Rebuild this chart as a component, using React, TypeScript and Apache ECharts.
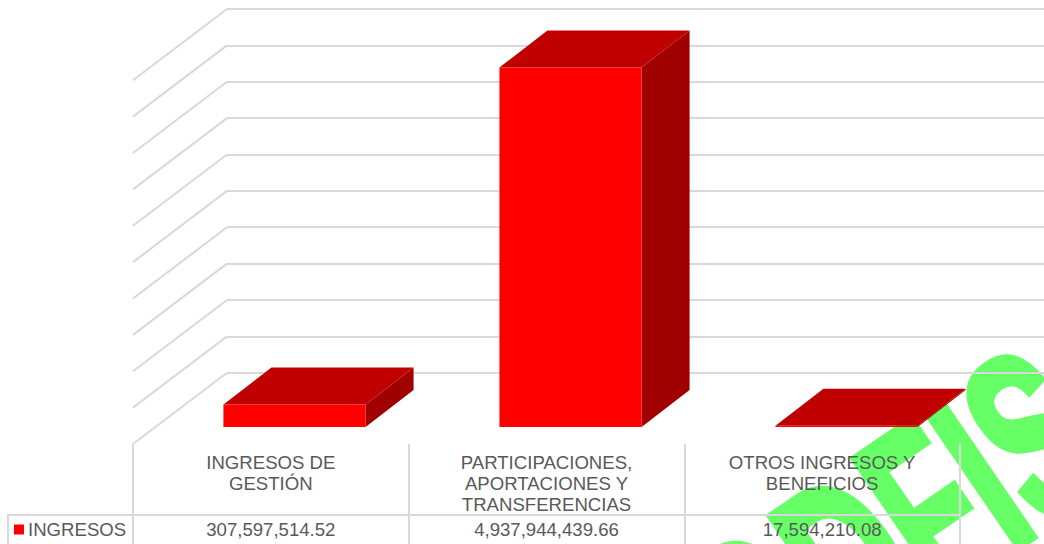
import React, { useEffect, useRef } from "react";
import * as echarts from "echarts";

const categories = ["INGRESOS DE\nGESTIÓN", "PARTICIPACIONES,\nAPORTACIONES Y\nTRANSFERENCIAS", "OTROS INGRESOS Y\nBENEFICIOS"];
const seriesName = "INGRESOS";
const values = [307597514.52, 4937944439.66, 17594210.08];
const gridTicks = [0, 500000000, 1000000000, 1500000000, 2000000000, 2500000000, 3000000000, 3500000000, 4000000000, 4500000000, 5000000000];
const watermark = "ODFIS";

const fmt = (v: number) => v.toLocaleString("en-US", { minimumFractionDigits: 2, maximumFractionDigits: 2 });
const FONT = '"Liberation Sans", Arial, sans-serif';
const GRID = "#D9D9D9";
const TEXT = "#595959";

export default function App() {
  const ref = useRef<HTMLDivElement>(null);
  useEffect(() => {
    const chart = echarts.init(ref.current!, undefined, { renderer: "svg" });
    const tableAxis = (gridIndex: number, data: string[], extra: any) => ({
      type: "category", gridIndex, position: "top", data, boundaryGap: true,
      axisTick: { show: false },
      axisLine: { show: false, onZero: false },
      splitLine: { show: false },
      axisLabel: { inside: true, interval: 0, color: TEXT, fontFamily: FONT, fontSize: 18.6, lineHeight: 21, align: "center", verticalAlign: "top", margin: 8 },
      ...extra,
    });
    const hiddenY = (gridIndex: number) => ({ type: "value", gridIndex, show: false, min: 0, max: 1 });
    chart.setOption({
      animation: false,
      backgroundColor: "#fff",
      legend: {
        data: [seriesName], left: 14, top: 520, padding: 0, itemWidth: 10, itemHeight: 10, itemGap: 0,
        icon: "rect", selectedMode: false,
        textStyle: { color: TEXT, fontFamily: FONT, fontSize: 18.6, padding: [0, 0, 0, -1] },
      },
      grid: [
        { left: 156.5, width: 828, top: 63, height: 364 },
        { left: 227, width: 817, top: 9, height: 363.7 },
        { left: 133, width: 827, top: 444, height: 100 },
        { left: 133, width: 827, top: 515, height: 29 },
      ],
      xAxis: [
        { type: "category", gridIndex: 0, show: false, data: categories },
        { type: "value", gridIndex: 1, show: false, min: 0, max: 1 },
        tableAxis(2, categories, { splitLine: { show: true, lineStyle: { color: GRID, width: 2 } } }),
        tableAxis(3, values.map(fmt), {
          axisLine: { show: true, onZero: false, lineStyle: { color: GRID, width: 2 } },
          axisLabel: { inside: true, interval: 0, color: TEXT, fontFamily: FONT, fontSize: 18.6, align: "center", verticalAlign: "top", margin: 5 },
        }),
      ],
      yAxis: [
        { type: "value", gridIndex: 0, show: false, min: 0, max: 5000000000 },
        {
          type: "value", gridIndex: 1, min: 0, max: 5000000000, interval: 500000000,
          axisLine: { show: false }, axisTick: { show: false }, axisLabel: { show: false },
          splitLine: { show: true, lineStyle: { color: GRID, width: 2 } },
        },
        hiddenY(2), hiddenY(3),
      ],
      series: [
        {
          type: "custom", name: "walls", xAxisIndex: 1, yAxisIndex: 1, silent: true, clip: false, z: 1,
          data: gridTicks.map((t) => [0, t]),
          renderItem: (_p: any, api: any) => {
            const [x, y] = api.coord([api.value(0), api.value(1)]);
            return { type: "line", shape: { x1: x, y1: y, x2: x - 94, y2: y + 71.3 }, style: { stroke: GRID, lineWidth: 2, fill: "none" } };
          },
        },
        {
          type: "custom", name: seriesName, xAxisIndex: 0, yAxisIndex: 0, clip: false, z: 5,
          itemStyle: { color: "#FF0000" },
          data: values.map((v, i) => [i, v]),
          renderItem: (_p: any, api: any) => {
            const [cx, top] = api.coord([api.value(0), api.value(1)]);
            const [, base] = api.coord([api.value(0), 0]);
            const w = api.size([1, 0])[0] * 0.515;
            const l = cx - w / 2, r = cx + w / 2, dx = 48, dy = 37;
            const poly = (points: number[][], fill: string) => ({ type: "polygon", shape: { points }, style: { fill } });
            return {
              type: "group",
              children: [
                poly([[r, base], [r + dx, base - dy], [r + dx, top - dy], [r, top]], "#A00000"),
                poly([[l, top], [l + dx, top - dy], [r + dx, top - dy], [r, top]], "#C00000"),
                { type: "rect", shape: { x: l, y: top, width: w, height: Math.max(base - top, 1) }, style: { fill: "#FF0000" } },
              ],
            };
          },
        },
      ],
      graphic: [
        {
          type: "text", x: 718, y: 652, rotation: 0.6, scaleX: 0.586, z: -10, silent: true,
          style: { text: watermark, fill: "#66FF66", stroke: "#66FF66", lineWidth: 8, font: `bold 240px ${FONT}`, align: "left", verticalAlign: "middle" },
        },
        { type: "polyline", z: 1, silent: true, shape: { points: [[8, 544], [8, 515], [133, 515]] }, style: { stroke: GRID, lineWidth: 2, fill: "none" } },
      ],
    });
    return () => chart.dispose();
  }, []);
  return <div ref={ref} style={{ position: "fixed", left: 0, top: 0, width: 1044, height: 544 }} />;
}
